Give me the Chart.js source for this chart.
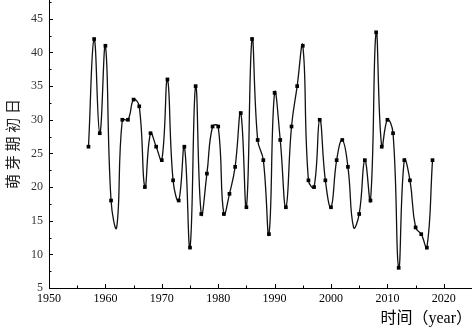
<!DOCTYPE html>
<html>
<head>
<meta charset="utf-8">
<script src="https://cdn.jsdelivr.net/npm/chart.js@4"></script>
<style>
  html, body { margin: 0; padding: 0; background: #fff; }
  #wrap { width: 472px; height: 327px; }
</style>
</head>
<body>
<div id="wrap"><canvas id="sprout"></canvas></div>
<script>
var years = [1957, 1958, 1959, 1960, 1961, 1962, 1963, 1964, 1965, 1966,
  1967, 1968, 1969, 1970, 1971, 1972, 1973, 1974, 1975, 1976,
  1977, 1978, 1979, 1980, 1981, 1982, 1983, 1984, 1985, 1986,
  1987, 1988, 1989, 1990, 1991, 1992, 1993, 1994, 1995, 1996,
  1997, 1998, 1999, 2000, 2001, 2002, 2003, 2004, 2005, 2006,
  2007, 2008, 2009, 2010, 2011, 2012, 2013, 2014, 2015, 2016,
  2017, 2018];
var days = [26, 42, 28, 41, 18, 14, 30, 30, 33, 32,
  20, 28, 26, 24, 36, 21, 18, 26, 11, 35,
  16, 22, 29, 29, 16, 19, 23, 31, 17, 42,
  27, 24, 13, 34, 27, 17, 29, 35, 41, 21,
  20, 30, 21, 17, 24, 27, 23, 14, 16, 24,
  18, 43, 26, 30, 28, 8, 24, 21, 14, 13,
  11, 24];
var unmarkedYears = [1962, 2004]; // curve dips there, no marker in the original
var xTicks = [1950, 1960, 1970, 1980, 1990, 2000, 2010, 2020];
var yTicks = [5, 10, 15, 20, 25, 30, 35, 40, 45];

Chart.defaults.font.family = "'Liberation Serif', 'Noto Sans CJK SC', serif";
Chart.defaults.color = "#000";

var points = years.map(function (yr, i) {
  return { x: yr, y: days[i] };
});

// inward major + minor ticks, like the Origin plot
var innerTicks = {
  id: "innerTicks",
  afterDraw: function (chart) {
    var c = chart.ctx;
    var sx = chart.scales.x, sy = chart.scales.y;
    var area = chart.chartArea;
    c.save();
    c.strokeStyle = "#000";
    c.lineWidth = 1;
    c.beginPath();
    for (var v = 1950; v <= 2025; v += 5) {
      var px = Math.round(sx.getPixelForValue(v)) + 0.5;
      var len = v % 10 === 0 ? 4 : 2.5;
      c.moveTo(px, area.bottom);
      c.lineTo(px, area.bottom - len);
    }
    for (var w = 5; w <= 47.5; w += 2.5) {
      var py = Math.round(sy.getPixelForValue(w)) + 0.5;
      var l2 = w % 5 === 0 ? 4 : 2.5;
      c.moveTo(area.left, py);
      c.lineTo(area.left + l2, py);
    }
    c.stroke();
    c.restore();
  }
};

var ctx = document.getElementById("sprout");

new Chart(ctx, {
  type: "line",
  data: {
    datasets: [
      {
        label: "萌芽期初日",
        data: points,
        borderColor: "#111",
        borderWidth: 1.3,
        tension: 0.45,
        fill: false,
        pointStyle: "rect",
        pointRadius: function (c) {
          var p = c.raw;
          return p && unmarkedYears.indexOf(p.x) >= 0 ? 0 : 2.6;
        },
        pointBackgroundColor: "#000",
        pointBorderWidth: 0
      }
    ]
  },
  options: {
    responsive: true,
    maintainAspectRatio: false,
    animation: false,
    layout: { padding: 0, autoPadding: false },
    plugins: {
      legend: { display: false },
      tooltip: { enabled: false }
    },
    scales: {
      x: {
        type: "linear",
        min: 1950,
        max: 2025,
        afterBuildTicks: function (s) {
          s.ticks = xTicks.map(function (v) { return { value: v }; });
        },
        afterFit: function (s) {
          s.height = 39;
          s.paddingLeft = 0;
          s.paddingRight = 0;
        },
        grid: { display: false, drawTicks: false },
        border: { display: true, color: "#000", width: 1 },
        ticks: {
          font: { size: 12 },
          padding: 4,
          maxRotation: 0,
          autoSkip: false,
          callback: function (v) { return String(v); }
        },
        title: {
          display: true,
          text: "时间（year）",
          align: "end",
          font: { size: 16, lineHeight: 1 },
          padding: 0
        }
      },
      y: {
        min: 5,
        max: 47.8,
        afterBuildTicks: function (s) {
          s.ticks = yTicks.map(function (v) { return { value: v }; });
        },
        afterFit: function (s) {
          s.width = 49;
          s.paddingTop = 0;
          s.paddingBottom = 0;
        },
        grid: { display: false, drawTicks: false },
        border: { display: true, color: "#000", width: 1 },
        ticks: {
          font: { size: 12 },
          color: "#333",
          padding: 6,
          autoSkip: false
        },
        title: {
          display: true,
          text: "萌 芽 期 初 日",
          color: "#222",
          font: { size: 15 },
          padding: { top: 5, bottom: 0 }
        }
      }
    }
  },
  plugins: [innerTicks]
});
</script>
</body>
</html>
